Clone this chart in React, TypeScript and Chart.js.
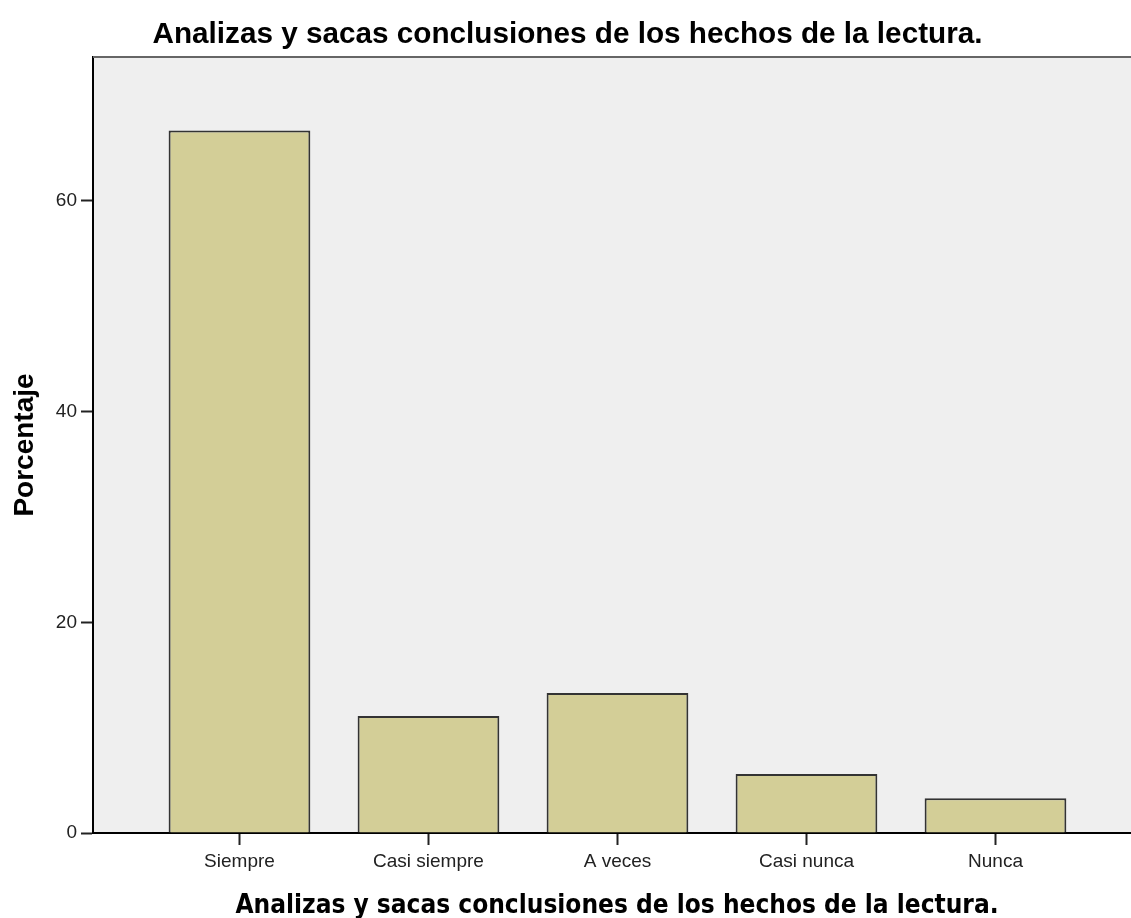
import React, { useEffect, useRef } from "react";
import { Chart, registerables } from "chart.js";

Chart.register(...registerables);

const chartTitle = "Analizas y sacas conclusiones de los hechos de la lectura.";
const xAxisTitle = "Analizas y sacas conclusiones de los hechos de la lectura.";
const yAxisTitle = "Porcentaje";
const categories = ["Siempre", "Casi siempre", "A veces", "Casi nunca", "Nunca"];
const percentages = [66.7, 11.1, 13.3, 5.6, 3.3];
const yTickValues = [0, 20, 40, 60];

const W = 1131;
const H = 918;

const decorPlugin = {
  id: "decor",
  beforeDraw(chart: any) {
    const { ctx, chartArea } = chart;
    const { left, top, right, bottom } = chartArea;
    ctx.save();
    ctx.fillStyle = "#EFEFEF";
    ctx.fillRect(left, top, right - left, bottom - top);
    ctx.restore();
  },
  afterDraw(chart: any) {
    const { ctx, chartArea } = chart;
    const { left, top, right, bottom } = chartArea;
    ctx.save();
    // top frame line
    ctx.strokeStyle = "#666";
    ctx.lineWidth = 2;
    ctx.beginPath();
    ctx.moveTo(left, top);
    ctx.lineTo(right, top);
    ctx.stroke();

    // main title
    ctx.fillStyle = "#000";
    ctx.textAlign = "center";
    ctx.textBaseline = "alphabetic";
    ctx.font = "bold 29.7px 'Liberation Sans', Arial, sans-serif";
    ctx.fillText(chartTitle, W / 2 + 2, 43);

    // x axis title
    ctx.font = "bold 26px 'DejaVu Sans Condensed', 'DejaVu Sans', sans-serif";
    ctx.fillText(xAxisTitle, (left + right) / 2 + 5, 913);

    // y axis title
    ctx.save();
    ctx.translate(33, (top + bottom) / 2);
    ctx.rotate(-Math.PI / 2);
    ctx.font = "bold 28px 'Liberation Sans', Arial, sans-serif";
    ctx.textAlign = "center";
    ctx.fillText(yAxisTitle, 0, 0);
    ctx.restore();
    ctx.restore();
  },
};

export default function App() {
  const canvasRef = useRef<HTMLCanvasElement | null>(null);

  useEffect(() => {
    const canvas = canvasRef.current;
    if (!canvas) return;
    const data = categories.map((_, i) => ({ x: i, y: percentages[i] }));
    const chart = new Chart(canvas, {
      type: "bar",
      data: {
        datasets: [
          {
            data: data as any,
            backgroundColor: "#D3CE97",
            borderColor: "#333333",
            borderWidth: 2,
            barPercentage: 0.75,
            categoryPercentage: 1,
          },
        ],
      },
      plugins: [decorPlugin],
      options: {
        animation: false,
        responsive: false,
        devicePixelRatio: 1,
        layout: { padding: { top: 57, left: 0, right: 0, bottom: 0 } },
        plugins: {
          legend: { display: false },
          title: { display: false },
          tooltip: { enabled: false },
        },
        scales: {
          x: {
            type: "linear",
            min: -0.775,
            max: 4.717,
            offset: false,
            afterFit(scale: any) {
              scale.height = H - 833;
            },
            afterBuildTicks(scale: any) {
              scale.ticks = categories.map((_, i) => ({ value: i }));
            },
            grid: {
              display: true,
              offset: false,
              drawOnChartArea: false,
              drawTicks: true,
              tickLength: 12,
              tickWidth: 2,
              tickColor: "#222",
            },
            border: { display: true, color: "#000", width: 2 },
            ticks: {
              autoSkip: false,
              maxRotation: 0,
              padding: 5,
              color: "#222",
              font: { family: "'Liberation Sans', Arial, sans-serif", size: 19 },
              callback: (v: any) => categories[Math.round(Number(v))] ?? "",
            },
          },
          y: {
            type: "linear",
            min: 0,
            max: 73.67,
            afterFit(scale: any) {
              scale.width = 93;
            },
            afterBuildTicks(scale: any) {
              scale.ticks = yTickValues.map((v) => ({ value: v }));
            },
            grid: {
              display: true,
              drawOnChartArea: false,
              drawTicks: true,
              tickLength: 12,
              tickWidth: 2,
              tickColor: "#222",
            },
            border: { display: true, color: "#000", width: 2 },
            ticks: {
              padding: 4,
              color: "#222",
              font: { family: "'Liberation Sans', Arial, sans-serif", size: 19 },
            },
          },
        },
      },
    });
    return () => chart.destroy();
  }, []);

  return (
    <div style={{ position: "absolute", left: 0, top: 0, width: W, height: H, background: "#fff" }}>
      <canvas ref={canvasRef} width={W} height={H} style={{ display: "block" }} />
    </div>
  );
}
